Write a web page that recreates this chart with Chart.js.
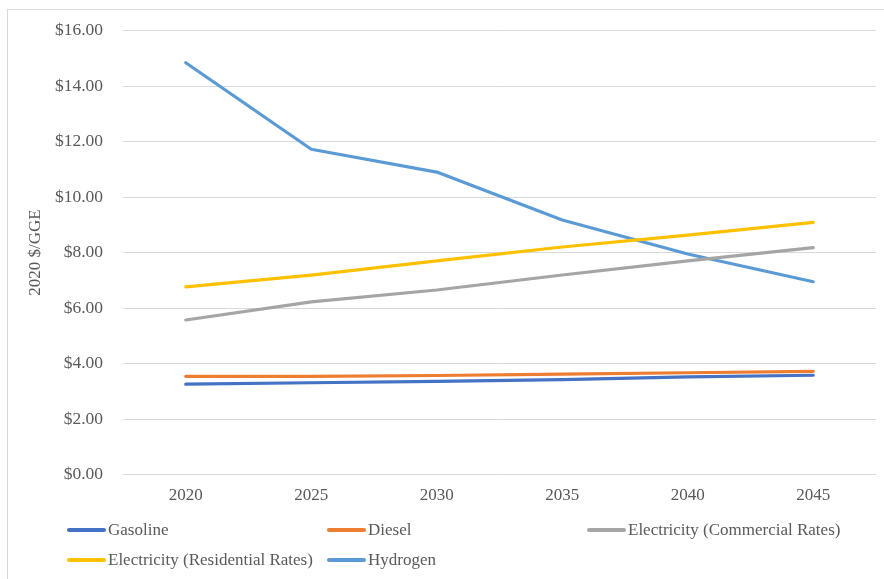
<!DOCTYPE html>
<html>
<head>
<meta charset="utf-8">
<script src="https://cdn.jsdelivr.net/npm/chart.js@4/dist/chart.umd.min.js"></script>
<style>
  html, body { margin: 0; padding: 0; background: #fff; }
  #wrap { position: relative; width: 884px; height: 579px; overflow: hidden; }
  #frame { position: absolute; left: 7px; top: 9px; width: 900px; height: 600px;
           border-left: 1px solid #d9d9d9; border-top: 1px solid #d9d9d9; box-sizing: border-box; }
  canvas { position: absolute; left: 0; top: 0; }
  #legend { position: absolute; left: 0; top: 0; width: 884px; height: 579px; pointer-events: none;
            font-family: "Liberation Serif", "Times New Roman", serif; font-size: 17px; color: #595959; }
  .item { position: absolute; display: flex; align-items: center; white-space: nowrap; height: 20px; }
  .swatch { width: 39px; height: 4px; border-radius: 2px; margin-right: 2px; }
</style>
</head>
<body>
<div id="wrap">
  <div id="frame"></div>
  <canvas id="c" width="884" height="579"></canvas>
  <div id="legend"></div>
</div>
<script>
// Fuel cost outlook, 2020 dollars per gasoline gallon equivalent
const years = ['2020', '2025', '2030', '2035', '2040', '2045'];
const seriesNames = ['Gasoline', 'Diesel', 'Electricity (Commercial Rates)', 'Electricity (Residential Rates)', 'Hydrogen'];
const gasoline = [3.26, 3.31, 3.36, 3.42, 3.52, 3.58];
const diesel = [3.54, 3.54, 3.57, 3.62, 3.67, 3.72];
const elecCommercial = [5.57, 6.22, 6.65, 7.19, 7.70, 8.18];
const elecResidential = [6.76, 7.19, 7.70, 8.20, 8.63, 9.09];
const hydrogen = [14.84, 11.72, 10.90, 9.17, 7.95, 6.95];
const seriesColors = ['#4472C4', '#ED7D31', '#A5A5A5', '#FFC000', '#5B9BD5'];
const yTicks = [0, 2, 4, 6, 8, 10, 12, 14, 16];

const seriesValues = [gasoline, diesel, elecCommercial, elecResidential, hydrogen];
const serif = '"Liberation Serif", "Times New Roman", serif';

const chart = new Chart(document.getElementById('c'), {
  type: 'line',
  data: {
    labels: years,
    datasets: seriesNames.map((name, i) => ({
      label: name,
      data: seriesValues[i],
      borderColor: seriesColors[i],
      backgroundColor: seriesColors[i],
      borderWidth: 3.2,
      pointRadius: 0,
      tension: 0,
      borderCapStyle: 'round',
      borderJoinStyle: 'round'
    }))
  },
  options: {
    responsive: false,
    animation: false,
    layout: { padding: { left: 21, right: 8, top: 26, bottom: 70 } },
    plugins: { legend: { display: false }, tooltip: { enabled: false } },
    scales: {
      x: {
        offset: true,
        grid: { display: false },
        border: { display: false },
        ticks: { color: '#595959', font: { family: serif, size: 17 }, padding: 3, maxRotation: 0 }
      },
      y: {
        min: 0,
        max: 16,
        afterBuildTicks: (scale) => { scale.ticks = yTicks.map(v => ({ value: v })); },
        afterFit: (scale) => { scale.width = 102; },
        grid: { color: '#d9d9d9', lineWidth: 1, drawTicks: false },
        border: { display: false },
        ticks: {
          color: '#595959',
          font: { family: serif, size: 17.5 },
          padding: 20,
          callback: (v) => '$' + Number(v).toFixed(2)
        },
        title: {
          display: true,
          text: '2020 $/GGE',
          color: '#595959',
          font: { family: serif, size: 17 },
          padding: { top: 4, bottom: 4 }
        }
      }
    }
  }
});

// Legend laid out in three fixed columns, two rows
const legendEl = document.getElementById('legend');
const colX = [67, 327, 587];
const rowY = [520, 550];
chart.data.datasets.forEach((ds, i) => {
  const item = document.createElement('div');
  item.className = 'item';
  item.style.left = colX[i % 3] + 'px';
  item.style.top = rowY[Math.floor(i / 3)] + 'px';
  const sw = document.createElement('span');
  sw.className = 'swatch';
  sw.style.background = ds.borderColor;
  const tx = document.createElement('span');
  tx.textContent = ds.label;
  item.appendChild(sw);
  item.appendChild(tx);
  legendEl.appendChild(item);
});
</script>
</body>
</html>
